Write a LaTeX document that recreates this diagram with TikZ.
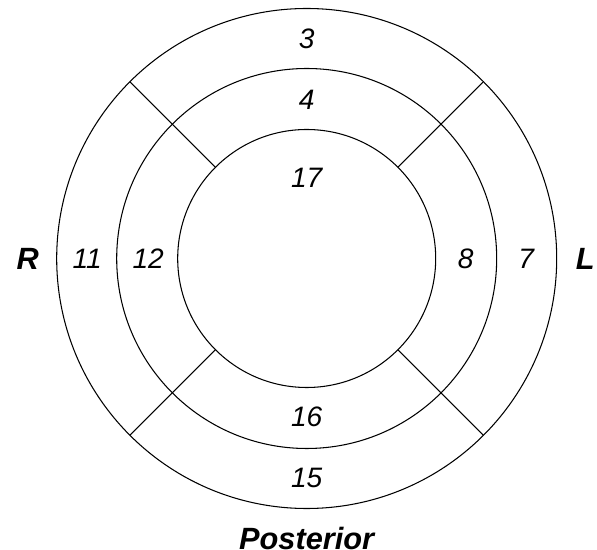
\documentclass[tikz,border=0pt]{standalone}
\usepackage{fontspec}
\setmainfont{Liberation Sans}
\usepackage{tikz}
\tikzset{
  ring/.style={draw, circle, line width=0.6pt, inner sep=0pt, outer sep=0pt},
  divider/.style={line width=0.6pt},
  segno/.style={font=\fontsize{16}{19}\selectfont\itshape},
  sidelabel/.style={font=\fontsize{17.5}{21}\selectfont\bfseries\itshape}
}

\begin{document}
\begin{tikzpicture}
  \useasboundingbox (-6.134,-5.83) rectangle (5.806,5.17);

  \node[ring, minimum size=10cm] (outer) at (0,0) {};
  \node[ring, minimum size=7.6cm] (middle) at (0,0) {};
  \node[ring, minimum size=5.16cm] (inner) at (0,0) {};

  \foreach \a in {45,135,225,315}
    \draw[divider] (inner.\a) -- (outer.\a);

  \node[segno] (s3) at (0,4.4) {3};
  \node[segno] (s4) at (0,3.18) {4};
  \node[segno] (s17) at (0,1.62) {17};
  \node[segno] (s16) at (0,-3.17) {16};
  \node[segno] (s15) at (0,-4.39) {15};
  \node[segno] (s11) at (-4.39,0) {11};
  \node[segno] (s12) at (-3.17,0) {12};
  \node[segno] (s8) at (3.18,0) {8};
  \node[segno] (s7) at (4.39,0) {7};

  \node[sidelabel] (right) at (-5.58,0) {R};
  \node[sidelabel] (left) at (5.57,0) {L};
  \node[sidelabel] (post) at (0,-5.6) {Posterior};
\end{tikzpicture}
\end{document}
